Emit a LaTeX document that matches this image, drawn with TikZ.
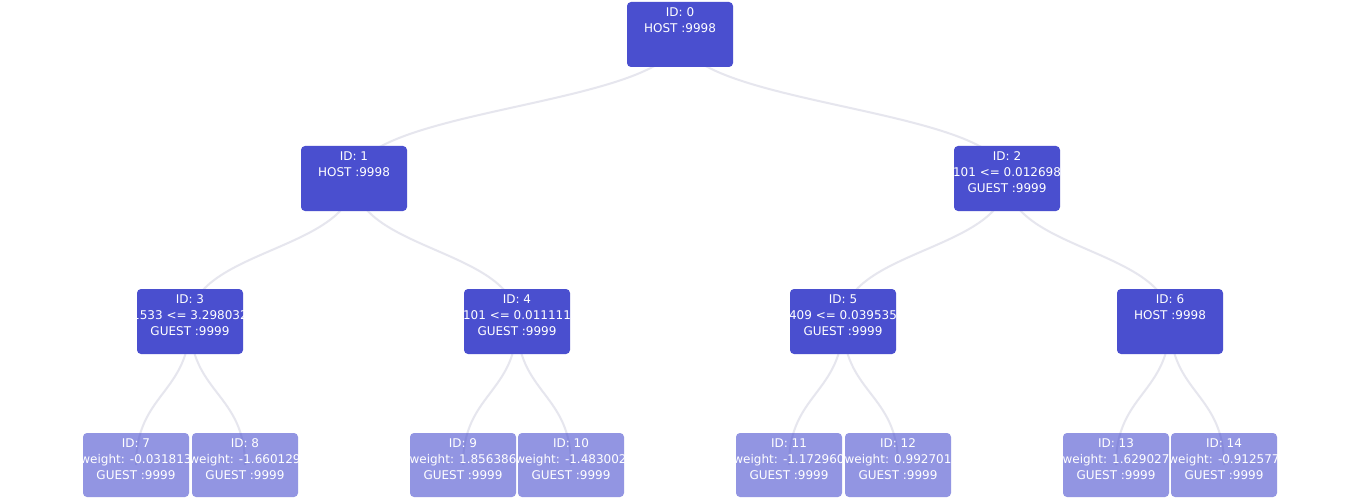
\documentclass[tikz,border=0pt]{standalone}
\usepackage{fontspec}
\newfontfamily\dejavu{DejaVu Sans}
\usetikzlibrary{calc}
\pgfdeclarelayer{background}
\pgfsetlayers{background,main}
\definecolor{darkbox}{RGB}{74,79,207}
\definecolor{edgecol}{RGB}{230,230,238}
\tikzset{
  innerbox/.style={fill=darkbox, rounded corners=4pt, minimum width=106pt, minimum height=65pt, inner sep=0pt},
  leafbox/.style={fill=darkbox, fill opacity=0.6, rounded corners=4pt, minimum width=106pt, minimum height=64pt, inner sep=0pt},
  lbl/.style={text=white, anchor=base, inner sep=0pt, font=\dejavu\fontsize{12}{16}\selectfont},
  edge/.style={draw=edgecol, line width=2pt}
}
\newcommand\tnode[7]{%
  \node[#4] (#1) at (#2,#3) {};
  \begin{scope}
    \clip[rounded corners=4pt] (#1.south west) rectangle (#1.north east);
    \node[lbl] at ($(#1.north)+(0,15)$) {#5};
    \node[lbl] at ($(#1.north)+(0,31)$) {#6};
    \node[lbl] at ($(#1.north)+(0,47)$) {#7};
  \end{scope}}
\newcommand\tedge[2]{\draw[edge] (#1.center) .. controls +(0,72) and +(0,-72) .. (#2.center);}
\begin{document}
\begin{tikzpicture}[x=1pt,y=-1pt]
\useasboundingbox (0,0) rectangle (1360,500);
\tnode{n0}{680}{34.5}{innerbox}{ID: 0}{HOST :9998}{}
\tnode{n1}{354}{178.5}{innerbox}{ID: 1}{HOST :9998}{}
\tnode{n2}{1007}{178.5}{innerbox}{ID: 2}{101 <= 0.012698}{GUEST :9999}
\tnode{n3}{190}{321.5}{innerbox}{ID: 3}{1533 <= 3.298032}{GUEST :9999}
\tnode{n4}{517}{321.5}{innerbox}{ID: 4}{101 <= 0.011111}{GUEST :9999}
\tnode{n5}{843}{321.5}{innerbox}{ID: 5}{409 <= 0.039535}{GUEST :9999}
\tnode{n6}{1170}{321.5}{innerbox}{ID: 6}{HOST :9998}{}
\tnode{n7}{136}{465}{leafbox}{ID: 7}{weight: -0.031813}{GUEST :9999}
\tnode{n8}{245}{465}{leafbox}{ID: 8}{weight: -1.660129}{GUEST :9999}
\tnode{n9}{463}{465}{leafbox}{ID: 9}{weight: 1.856386}{GUEST :9999}
\tnode{n10}{571}{465}{leafbox}{ID: 10}{weight: -1.483002}{GUEST :9999}
\tnode{n11}{789}{465}{leafbox}{ID: 11}{weight: -1.172960}{GUEST :9999}
\tnode{n12}{898}{465}{leafbox}{ID: 12}{weight: 0.992701}{GUEST :9999}
\tnode{n13}{1116}{465}{leafbox}{ID: 13}{weight: 1.629027}{GUEST :9999}
\tnode{n14}{1224}{465}{leafbox}{ID: 14}{weight: -0.912577}{GUEST :9999}
\begin{pgfonlayer}{background}
\fill[white] (0,0) rectangle (1360,500);
\tedge{n0}{n1}
\tedge{n0}{n2}
\tedge{n1}{n3}
\tedge{n1}{n4}
\tedge{n2}{n5}
\tedge{n2}{n6}
\tedge{n3}{n7}
\tedge{n3}{n8}
\tedge{n4}{n9}
\tedge{n4}{n10}
\tedge{n5}{n11}
\tedge{n5}{n12}
\tedge{n6}{n13}
\tedge{n6}{n14}
\end{pgfonlayer}
\end{tikzpicture}
\end{document}
